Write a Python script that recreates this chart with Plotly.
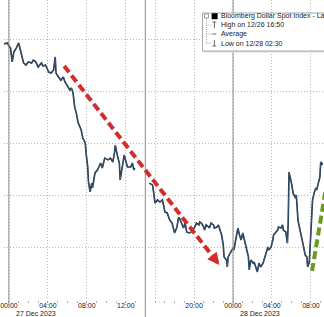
import plotly.graph_objects as go

# ---- data (Bloomberg Dollar Spot Index, intraday) ----
session1_times = [
    "2023-12-26 23:30", "2023-12-26 23:50", "2023-12-27 00:00", "2023-12-27 00:10", "2023-12-27 00:20",
    "2023-12-27 00:30", "2023-12-27 00:45", "2023-12-27 01:00", "2023-12-27 01:15", "2023-12-27 01:30",
    "2023-12-27 01:45", "2023-12-27 02:00", "2023-12-27 02:20", "2023-12-27 02:30", "2023-12-27 02:45",
    "2023-12-27 03:00", "2023-12-27 03:20", "2023-12-27 03:30", "2023-12-27 03:45", "2023-12-27 04:05",
    "2023-12-27 04:20", "2023-12-27 04:35", "2023-12-27 04:45", "2023-12-27 04:50", "2023-12-27 05:05",
    "2023-12-27 05:20", "2023-12-27 05:35", "2023-12-27 05:45", "2023-12-27 06:05", "2023-12-27 06:15",
    "2023-12-27 06:25", "2023-12-27 06:35", "2023-12-27 06:45", "2023-12-27 06:55", "2023-12-27 07:05",
    "2023-12-27 07:25", "2023-12-27 07:35", "2023-12-27 07:50", "2023-12-27 07:55", "2023-12-27 08:05",
    "2023-12-27 08:10", "2023-12-27 08:20", "2023-12-27 08:30", "2023-12-27 08:35", "2023-12-27 08:50",
    "2023-12-27 09:05", "2023-12-27 09:25", "2023-12-27 09:35", "2023-12-27 09:50", "2023-12-27 10:10",
    "2023-12-27 10:25", "2023-12-27 10:40", "2023-12-27 10:50", "2023-12-27 10:55", "2023-12-27 11:10",
    "2023-12-27 11:20", "2023-12-27 11:25", "2023-12-27 11:40", "2023-12-27 11:50", "2023-12-27 12:10",
    "2023-12-27 12:30", "2023-12-27 12:40", "2023-12-27 12:50", "2023-12-27 12:55",
]
session1_values = [
    1211.81, 1211.85, 1211.73, 1211.65, 1211.12,
    1211.50, 1211.65, 1211.85, 1211.46, 1211.08,
    1211.00, 1211.12, 1211.08, 1211.19, 1211.12,
    1210.92, 1211.08, 1210.96, 1211.00, 1210.73,
    1210.69, 1210.81, 1211.31, 1210.69, 1210.54,
    1210.42, 1210.54, 1210.35, 1210.15, 1210.04,
    1210.12, 1209.92, 1209.38, 1209.15, 1208.81,
    1208.50, 1208.19, 1208.00, 1207.62, 1207.08,
    1206.50, 1206.12, 1206.46, 1206.27, 1206.85,
    1206.96, 1207.23, 1207.04, 1207.42, 1207.35,
    1207.42, 1207.27, 1207.62, 1207.92, 1207.46,
    1207.23, 1206.58, 1207.23, 1207.54, 1207.08,
    1207.08, 1207.23, 1206.96, 1207.04,
]

session2_times = [
    "2023-12-27 15:25", "2023-12-27 15:45", "2023-12-27 16:00", "2023-12-27 16:15", "2023-12-27 16:30",
    "2023-12-27 16:45", "2023-12-27 16:55", "2023-12-27 17:00", "2023-12-27 17:15", "2023-12-27 17:25",
    "2023-12-27 17:30", "2023-12-27 17:45", "2023-12-27 17:55", "2023-12-27 18:00", "2023-12-27 18:15",
    "2023-12-27 18:25", "2023-12-27 18:35", "2023-12-27 18:45", "2023-12-27 18:55", "2023-12-27 19:05",
    "2023-12-27 19:15", "2023-12-27 19:30", "2023-12-27 19:45", "2023-12-27 20:05", "2023-12-27 20:15",
    "2023-12-27 20:30", "2023-12-27 20:35", "2023-12-27 20:45", "2023-12-27 21:00", "2023-12-27 21:05",
    "2023-12-27 21:15", "2023-12-27 21:30", "2023-12-27 21:35", "2023-12-27 21:45", "2023-12-27 22:00",
    "2023-12-27 22:05", "2023-12-27 22:20", "2023-12-27 22:30", "2023-12-27 22:50", "2023-12-27 23:00",
    "2023-12-27 23:05", "2023-12-27 23:20", "2023-12-27 23:25", "2023-12-27 23:30", "2023-12-27 23:45",
    "2023-12-28 00:00", "2023-12-28 00:05", "2023-12-28 00:20", "2023-12-28 00:30", "2023-12-28 00:40",
    "2023-12-28 00:50", "2023-12-28 01:00", "2023-12-28 01:10", "2023-12-28 01:20", "2023-12-28 01:35",
    "2023-12-28 01:40", "2023-12-28 01:50", "2023-12-28 02:05", "2023-12-28 02:10", "2023-12-28 02:20",
    "2023-12-28 02:30", "2023-12-28 02:40", "2023-12-28 02:50", "2023-12-28 03:05", "2023-12-28 03:10",
    "2023-12-28 03:25", "2023-12-28 03:35", "2023-12-28 03:40", "2023-12-28 03:55", "2023-12-28 04:05",
    "2023-12-28 04:10", "2023-12-28 04:25", "2023-12-28 04:35", "2023-12-28 04:40", "2023-12-28 04:55",
    "2023-12-28 05:05", "2023-12-28 05:10", "2023-12-28 05:25", "2023-12-28 05:35", "2023-12-28 05:40",
    "2023-12-28 05:45", "2023-12-28 06:00", "2023-12-28 06:05", "2023-12-28 06:10", "2023-12-28 06:25",
    "2023-12-28 06:30", "2023-12-28 06:35", "2023-12-28 06:40", "2023-12-28 06:50", "2023-12-28 07:00",
    "2023-12-28 07:05", "2023-12-28 07:10", "2023-12-28 07:25", "2023-12-28 07:35", "2023-12-28 07:40",
    "2023-12-28 07:50", "2023-12-28 07:55", "2023-12-28 08:00", "2023-12-28 08:05", "2023-12-28 08:10",
    "2023-12-28 08:20", "2023-12-28 08:30", "2023-12-28 08:35", "2023-12-28 08:45", "2023-12-28 08:55",
    "2023-12-28 09:00", "2023-12-28 09:05", "2023-12-28 09:10",
]
session2_values = [
    1206.46, 1206.38, 1205.69, 1205.81, 1205.73,
    1205.81, 1205.54, 1205.35, 1205.31, 1205.15,
    1205.04, 1204.92, 1204.58, 1204.54, 1204.77,
    1205.15, 1205.04, 1204.85, 1204.73, 1204.92,
    1204.58, 1204.54, 1204.58, 1204.77, 1204.92,
    1204.85, 1204.96, 1204.92, 1204.77, 1204.65,
    1204.85, 1204.77, 1204.73, 1204.92, 1204.85,
    1204.73, 1204.77, 1204.85, 1204.46, 1204.08,
    1203.62, 1203.50, 1203.23, 1203.62, 1203.77,
    1203.96, 1203.88, 1204.35, 1204.73, 1204.46,
    1204.27, 1204.54, 1204.27, 1204.00, 1203.62,
    1203.12, 1203.50, 1203.38, 1203.42, 1203.23,
    1203.04, 1203.38, 1203.23, 1203.38, 1203.50,
    1203.77, 1204.00, 1203.88, 1204.00, 1204.27,
    1204.46, 1204.58, 1204.65, 1204.77, 1204.73,
    1204.85, 1204.65, 1204.58, 1204.15, 1204.92,
    1206.88, 1206.46, 1206.19, 1206.08, 1205.88,
    1206.00, 1205.54, 1205.04, 1204.73, 1204.38,
    1204.35, 1204.15, 1203.69, 1203.62, 1203.23,
    1203.42, 1204.00, 1204.65, 1205.31, 1205.81,
    1206.08, 1206.27, 1206.19, 1206.50, 1206.69,
    1207.23, 1207.27, 1207.15,
]
gap_time = "2023-12-27 13:00"

tick_times = ["2023-12-27 00:00", "2023-12-27 04:00", "2023-12-27 08:00", "2023-12-27 12:00",
              "2023-12-27 16:00", "2023-12-27 20:00", "2023-12-28 00:00", "2023-12-28 04:00",
              "2023-12-28 08:00"]
tick_labels = ["00:00", "04:00", "08:00", "12:00", "", "20:00", "00:00", "04:00", "08:00"]
date_labels = [("2023-12-27 00:00", "27 Dec 2023"), ("2023-12-28 00:00", "28 Dec 2023")]
y_grid = [1202, 1204, 1206, 1208, 1210, 1212]

red_trend = [("2023-12-27 05:40", 1210.96), ("2023-12-27 22:00", 1203.60)]
red_tip = ("2023-12-27 22:36", 1203.31)
green_trend = [("2023-12-28 08:07", 1203.08), ("2023-12-28 09:57", 1207.17)]

legend_rows = ["Bloomberg Dollar Spot Index - Last Price", "High on 12/26 16:50",
               "Average", "Low on 12/28 02:30"]

# ---- figure ----
W, H, B = 324, 317, 17
PH = H - B
def px(x):
    return x / W
def py(y):
    return (PH - y) / PH

xs = session1_times + [gap_time] + session2_times
ys = session1_values + [None] + session2_values

fig = go.Figure()
fig.add_trace(go.Scatter(x=xs, y=ys, mode="lines", connectgaps=False,
                         line=dict(color="#17212c", width=1.6), hoverinfo="skip"))
fig.add_trace(go.Scatter(x=xs, y=ys, mode="lines", connectgaps=False,
                         line=dict(color="#4f86bf", width=0.5)))

FONT = "Liberation Sans, Arial, sans-serif"
GRID = "#b8b8b8"
GRIDDASH = "1px,2px"
shapes = []
# session/day separators
for t, ybot in [("2023-12-27 00:00", -0.025), ("2023-12-28 00:00", -0.025), ("2023-12-27 15:00", -0.06)]:
    shapes.append(dict(type="line", xref="x", yref="paper", x0=t, x1=t, y0=ybot, y1=1,
                       line=dict(color="#8c8c8c", width=1)))
# trend lines
shapes.append(dict(type="line", xref="x", yref="y",
                   x0=red_trend[0][0], y0=red_trend[0][1], x1=red_trend[1][0], y1=red_trend[1][1],
                   line=dict(color="#d42b2b", width=4, dash="8px,4px")))
shapes.append(dict(type="line", xref="x", yref="y",
                   x0=green_trend[0][0], y0=green_trend[0][1], x1=green_trend[1][0], y1=green_trend[1][1],
                   line=dict(color="#6b9a1e", width=4, dash="8px,4px")))
# legend box
shapes.append(dict(type="rect", xref="paper", yref="paper", x0=px(202), x1=px(340), y0=py(52), y1=py(14),
                   line=dict(color="#d8d8d8", width=1), fillcolor="#eeeeee", layer="above"))
shapes.append(dict(type="rect", xref="paper", yref="paper", x0=px(201), x1=px(340), y0=py(51), y1=py(13),
                   line=dict(color="#a8a8a8", width=1), fillcolor="white", layer="above"))
# legend tree
shapes.append(dict(type="line", xref="paper", yref="paper", x0=px(205), x1=px(205), y0=py(44), y1=py(19),
                   line=dict(color="#b0b0b0", width=1, dash="1px,1px")))
for yy in [25, 34, 43]:
    shapes.append(dict(type="line", xref="paper", yref="paper", x0=px(205), x1=px(210), y0=py(yy), y1=py(yy),
                       line=dict(color="#b0b0b0", width=1, dash="1px,1px")))
shapes.append(dict(type="rect", xref="paper", yref="paper", x0=px(203), x1=px(207), y0=py(18), y1=py(14),
                   line=dict(color="#9a9a9a", width=1), fillcolor="white"))
shapes.append(dict(type="rect", xref="paper", yref="paper", x0=px(210.5), x1=px(216), y0=py(19), y1=py(13.5),
                   line=dict(color="black", width=0.5), fillcolor="black"))
# legend icons
ic = "#666666"
shapes += [
    dict(type="line", xref="paper", yref="paper", x0=px(211), x1=px(215), y0=py(22), y1=py(22), line=dict(color=ic, width=1)),
    dict(type="line", xref="paper", yref="paper", x0=px(213), x1=px(213), y0=py(22), y1=py(28), line=dict(color=ic, width=1)),
    dict(type="line", xref="paper", yref="paper", x0=px(211), x1=px(215), y0=py(34), y1=py(34), line=dict(color=ic, width=1)),
    dict(type="line", xref="paper", yref="paper", x0=px(213), x1=px(213), y0=py(40), y1=py(46), line=dict(color=ic, width=1)),
    dict(type="line", xref="paper", yref="paper", x0=px(211), x1=px(215), y0=py(46), y1=py(46), line=dict(color=ic, width=1)),
]

annotations = []
for t, label in date_labels:
    annotations.append(dict(x=t, xref="x", y=-(313 - PH) / PH, yref="paper", text=label, showarrow=False,
                            xanchor="left", yanchor="middle", xshift=5,
                            font=dict(size=7, color="#222222", family=FONT)))
for i, row in enumerate(legend_rows):
    annotations.append(dict(x=px(218), xref="paper", y=py(16 + 9.2 * i), yref="paper", text=row,
                            showarrow=False, xanchor="left", yanchor="middle",
                            font=dict(size=7, color="#222222", family=FONT)))
annotations.append(dict(x=red_tip[0], y=red_tip[1], xref="x", yref="y", ax=-7, ay=-9,
                        axref="pixel", ayref="pixel", showarrow=True, arrowhead=2, arrowsize=0.6,
                        arrowwidth=4, arrowcolor="#d42b2b", text=""))

fig.update_layout(
    width=W, height=H, margin=dict(l=0, r=0, t=0, b=B),
    paper_bgcolor="white", plot_bgcolor="white", showlegend=False,
    shapes=shapes, annotations=annotations,
    xaxis=dict(type="date", range=["2023-12-26 23:29:36", "2023-12-28 09:20:30"],
               rangebreaks=[dict(bounds=[14, 15], pattern="hour")],
               tickmode="array", tickvals=tick_times, ticktext=tick_labels,
               showgrid=True, gridcolor=GRID, griddash=GRIDDASH, gridwidth=1,
               ticks="outside", ticklen=2, tickcolor="#9a9a9a",
               ticklabelstandoff=-3, ticklabeloverflow="allow",
               tickfont=dict(size=7, color="#222222", family=FONT),
               zeroline=False, showline=False,
               minor=dict(dtick=3600000, ticks="outside", ticklen=2, tickcolor="#b0b0b0", showgrid=False)),
    yaxis=dict(range=[1201.962, 1213.5], tickmode="array", tickvals=y_grid,
               showticklabels=False, showgrid=True, gridcolor=GRID, griddash=GRIDDASH, gridwidth=1,
               zeroline=False, showline=False, ticks=""),
)

fig.write_html("out.html")
